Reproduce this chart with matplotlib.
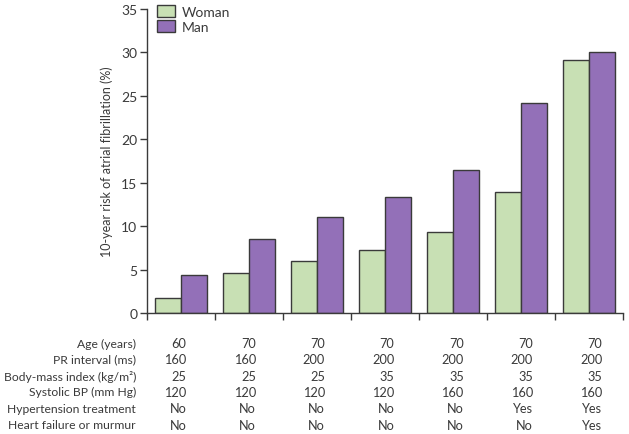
import matplotlib
matplotlib.use("Agg")
import matplotlib.pyplot as plt
import numpy as np
from matplotlib.patches import Patch

woman = [1.7, 4.6, 6.0, 7.3, 9.3, 13.9, 29.1]
man = [4.4, 8.5, 11.1, 13.3, 16.5, 24.2, 30.0]
row_labels = ["Age (years)", "PR interval (ms)", "Body-mass index (kg/m²)",
              "Systolic BP (mm Hg)", "Hypertension treatment", "Heart failure or murmur"]
age = ["60", "70", "70", "70", "70", "70", "70"]
pr = ["160", "160", "200", "200", "200", "200", "200"]
bmi = ["25", "25", "25", "35", "35", "35", "35"]
sbp = ["120", "120", "120", "120", "160", "160", "160"]
htn = ["No", "No", "No", "No", "No", "Yes", "Yes"]
hf = ["No", "No", "No", "No", "No", "No", "Yes"]
yticks = [0, 5, 10, 15, 20, 25, 30, 35]

plt.rcParams['font.family'] = ['Lato', 'DejaVu Sans']
txt = '#3a3a3a'
green = '#c8e0b4'
purple = '#9370b8'
edge = '#3a3a3a'

fig = plt.figure(figsize=(6.29, 4.35), dpi=100)
W, H = 629, 435
ax = fig.add_axes([147 / W, (H - 314) / H, 476 / W, 304 / H])

n = len(woman)
x = np.arange(n)
bw = 26 / 68
ax.bar(x + 0.5 - bw, woman, width=bw, align='edge', color=green, edgecolor=edge, linewidth=1.0)
ax.bar(x + 0.5, man, width=bw, align='edge', color=purple, edgecolor=edge, linewidth=1.0)

ax.set_xlim(0, n)
ax.set_ylim(0, 35)
ax.set_xticks(np.arange(n + 1))
ax.set_xticklabels([])
ax.set_yticks(yticks)
ax.set_yticklabels([str(v) for v in yticks])
for s in ['top', 'right']:
    ax.spines[s].set_visible(False)
for s in ['left', 'bottom']:
    ax.spines[s].set_color(edge)
    ax.spines[s].set_linewidth(1.0)
ax.tick_params(axis='y', direction='out', length=5, width=1.0, color=edge, labelsize=10, labelcolor=txt, pad=2)
ax.tick_params(axis='x', direction='out', length=5, width=1.0, color=edge)
ax.set_ylabel("10-year risk of atrial fibrillation (%)", fontsize=9, color=txt, labelpad=6)

handles = [Patch(facecolor=green, edgecolor=edge, label='Woman'),
           Patch(facecolor=purple, edgecolor=edge, label='Man')]
leg = ax.legend(handles=handles, loc='upper left', bbox_to_anchor=(0.0, 1.045), frameon=False,
                fontsize=10, handlelength=1.3, handleheight=0.9, handletextpad=0.5,
                labelspacing=0.2, borderaxespad=0.3)
for t in leg.get_texts():
    t.set_color(txt)

rows = [age, pr, bmi, sbp, htn, hf]
row_y = [344, 360, 376.7, 392.7, 409.3, 426]
for lab, vals, yp in zip(row_labels, rows, row_y):
    yf = (H - yp) / H
    fig.text(136 / W, yf, lab, ha='right', va='center', fontsize=8.7, color=txt)
    for i, v in enumerate(vals):
        xp = 186.5 + 69.3 * i
        fig.text(xp / W, yf, v, ha='right', va='center', fontsize=9.2, color=txt)

fig.savefig("out.png", dpi=100)
